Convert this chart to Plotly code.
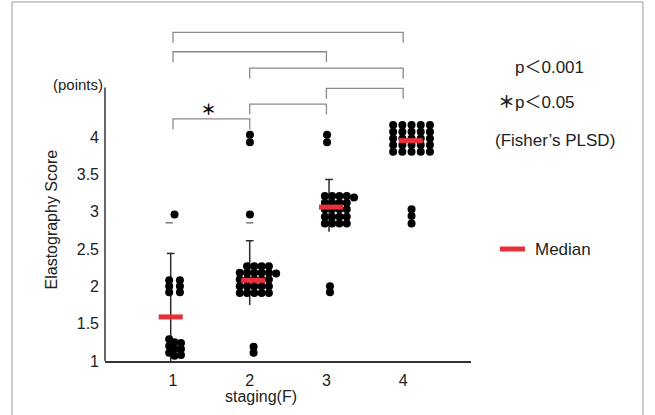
import plotly.graph_objects as go

# ---------------- data ----------------
stages = [1, 2, 3, 4]
x_tick_labels = ["1", "2", "3", "4"]
y_ticks = [1, 1.5, 2, 2.5, 3, 3.5, 4]
y_tick_labels = ["1", "1.5", "2", "2.5", "3", "3.5", "4"]

# individual elastography scores per fibrosis stage, with the dot-plot column each dot sits in
stage1_scores = [2.96,
                 2.08, 2.0, 1.92, 2.08, 2.0, 1.92,
                 1.29, 1.2, 1.11, 1.25, 1.16, 1.07, 1.24, 1.16, 1.08]
stage1_cols = [1,
               0, 0, 0, 2, 2, 2,
               0, 0, 0, 1, 1, 1, 2.2, 2.2, 2.2]

stage2_scores = [4.03, 3.93, 2.96,
                 2.18, 2.09, 2.0, 1.91,
                 2.27, 2.18, 2.09, 2.0, 1.91,
                 2.27, 2.18, 2.09, 2.0, 1.91,
                 2.27, 2.18, 2.09, 2.0, 1.91,
                 2.27, 2.18, 2.09, 2.0, 1.91,
                 2.17, 1.19, 1.11]
stage2_cols = [1.4, 1.4, 1.4,
               0, 0, 0, 0,
               1, 1, 1, 1, 1,
               2, 2, 2, 2, 2,
               3, 3, 3, 3, 3,
               4, 4, 4, 4, 4,
               5, 1.9, 1.9]

stage3_scores = [4.03, 3.93,
                 3.21, 3.12, 3.03, 2.93, 2.84,
                 3.21, 3.12, 3.03, 2.93, 2.84,
                 3.21, 3.12, 3.03, 2.93, 2.84,
                 3.21, 3.12, 3.03, 2.93, 2.84,
                 3.19, 2.0, 1.92]
stage3_cols = [0.3, 0.3,
               0, 0, 0, 0, 0,
               1, 1, 1, 1, 1,
               2, 2, 2, 2, 2,
               3, 3, 3, 3, 3,
               4, 0.7, 0.7]

stage4_scores = [4.16, 4.07, 3.98, 3.89, 3.80,
                 4.16, 4.07, 3.98, 3.89, 3.80,
                 4.16, 4.07, 3.98, 3.89, 3.80,
                 4.16, 4.07, 3.98, 3.89, 3.80,
                 4.16, 4.07, 3.98, 3.89, 3.80,
                 3.03, 2.94, 2.84]
stage4_cols = [0] * 5 + [1] * 5 + [2] * 5 + [3] * 5 + [4] * 5 + [2, 2, 2]

medians = [1.59, 2.08, 3.06, 3.95]
sd_upper = [2.44, 2.61, 3.43]
sd_lower = [1.0, 1.75, 2.73]
minor_marks = [2.85, 2.85]          # faint dashes under the top outliers of stages 1 and 2

comparisons = [(1, 4), (1, 3), (2, 4), (3, 4), (2, 3), (1, 2)]
comparison_levels = [5.40, 5.14, 4.92, 4.65, 4.44, 4.24]
comparison_marks = ["", "", "", "", "", "<b>＊</b>"]

# ---------------- layout helpers ----------------
FONT = "Liberation Sans, Arial, Noto Sans CJK JP, sans-serif"
swarm_origin = [-0.05, -0.13, -0.02, -0.13]
swarm_step = [0.07, 0.095, 0.095, 0.12]
median_shift = [-0.03, 0.045, 0.06, 0.10]
sd_shift = [-0.03, 0.0, 0.034]
median_half = 0.157
cap_half = 0.05

all_scores = [stage1_scores, stage2_scores, stage3_scores, stage4_scores]
all_cols = [stage1_cols, stage2_cols, stage3_cols, stage4_cols]

fig = go.Figure()

# SD bars
for i, s in enumerate(stages[:3]):
    xc = s + sd_shift[i]
    fig.add_trace(go.Scatter(
        x=[xc, xc, None, xc - cap_half, xc + cap_half],
        y=[sd_lower[i], sd_upper[i], None, sd_upper[i], sd_upper[i]],
        mode="lines", line=dict(color="#2b2b2b", width=1.5),
        hoverinfo="skip", showlegend=False, cliponaxis=False))

# faint dashes
fig.add_trace(go.Scatter(
    x=[stages[0] - 0.05, stages[1]], y=minor_marks, mode="markers",
    marker=dict(symbol="line-ew", size=5, line=dict(color="#777777", width=1.5)),
    hoverinfo="skip", showlegend=False))

# dots
for i, s in enumerate(stages):
    xs = [s + swarm_origin[i] + c * swarm_step[i] for c in all_cols[i]]
    fig.add_trace(go.Scatter(
        x=xs, y=all_scores[i], mode="markers",
        marker=dict(color="black", size=8, line=dict(width=0)),
        showlegend=False, cliponaxis=False))

# medians
mx, my = [], []
for i, s in enumerate(stages):
    c = s + median_shift[i]
    mx += [c - median_half, c + median_half, None]
    my += [medians[i], medians[i], None]
fig.add_trace(go.Scatter(x=mx, y=my, mode="lines",
                         line=dict(color="#e8303a", width=5),
                         name="Median", showlegend=False))

# comparison brackets
tip = 0.14
for (a, b), lvl, mk in zip(comparisons, comparison_levels, comparison_marks):
    fig.add_trace(go.Scatter(
        x=[a, a, b, b], y=[lvl - tip, lvl, lvl, lvl - tip], mode="lines",
        line=dict(color="#8a8a8a", width=1.3), hoverinfo="skip", showlegend=False))
    if mk:
        fig.add_annotation(x=(a + b) / 2 - 0.04, y=lvl + 0.13, text=mk, showarrow=False,
                           xanchor="center", yanchor="middle",
                           font=dict(size=15, color="black", family=FONT))

# y axis line (stops below the brackets)
fig.add_shape(type="line", xref="paper", yref="y", x0=0, x1=0, y0=1, y1=4.66,
              line=dict(color="#333333", width=1.5))

# frame around the whole figure
fig.add_shape(type="rect", xref="paper", yref="paper",
              x0=-0.2541, x1=1.4699, y0=-0.18, y1=1.0685,
              line=dict(color="#9a9a9a", width=1))


def note(x, y, text, size, xanchor="center", angle=0, xref="paper"):
    fig.add_annotation(xref=xref, yref="paper", x=x, y=y, text=text, textangle=angle,
                       xanchor=xanchor, yanchor="middle", showarrow=False,
                       font=dict(size=size, color="#222", family=FONT))


note(-0.074, 0.822, "(points)", 15)
note(-0.145, 0.421, "Elastography Score", 16, angle=-90)
note(2.147, -0.107, "staging(F)", 16, xref="x")
note(1.2158, 0.875, "p＜0.001", 17)
note(1.1776, 0.7708, "<b>＊</b>p＜0.05", 17)
note(1.2295, 0.6577, "(Fisher’s PLSD)", 17)
fig.add_shape(type="line", xref="paper", yref="paper", x0=1.0792, x1=1.1475,
              y0=0.3333, y1=0.3333, line=dict(color="#e8303a", width=5))
note(1.1694, 0.3333, "Median", 17, xanchor="left")

fig.update_layout(
    width=655, height=415,
    margin=dict(l=105, r=184, t=25, b=54),
    paper_bgcolor="white", plot_bgcolor="white",
    font=dict(family=FONT, size=16, color="#222"),
    xaxis=dict(range=[0.1134, 4.885], tickvals=stages, ticktext=x_tick_labels,
               showgrid=False, zeroline=False, showline=True, linecolor="#333333",
               linewidth=1.5, ticks="", tickfont=dict(size=16), automargin=False,
               ticklabelstandoff=4),
    yaxis=dict(range=[1, 5.498], tickvals=y_ticks, ticktext=y_tick_labels,
               showgrid=False, zeroline=False, showline=False, ticks="",
               tickfont=dict(size=16), automargin=False, ticklabelstandoff=5),
)

fig.write_html("out.html", config={"displayModeBar": False},
               post_script="document.body.style.margin='0';document.body.style.overflow='hidden';")
